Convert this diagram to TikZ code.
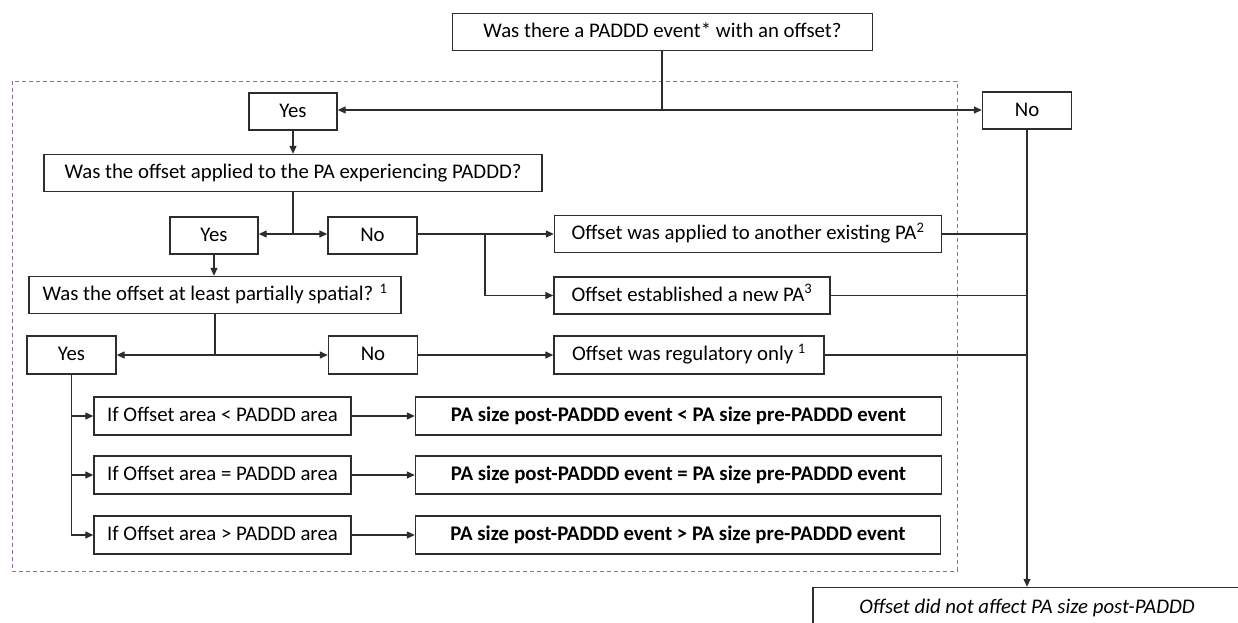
\documentclass[tikz,border=0pt]{standalone}
\usepackage{fontspec}
\setmainfont{Carlito}
\usetikzlibrary{arrows.meta}
\definecolor{ink}{RGB}{45,45,45}
\definecolor{dashc}{RGB}{150,105,160}
\newcommand{\fsz}{\fontsize{20.8}{23}\selectfont}
\begin{document}
\begin{tikzpicture}[x=1pt,y=-1pt,
  box/.style={draw=ink,line width=1.4pt,rectangle,inner sep=0pt,minimum height=37pt,align=center,font=\fsz,text=black,text height=15.5pt,text depth=4pt},
  conn/.style={draw=ink,line width=1.3pt},
  arr/.style={conn,-{Triangle[length=8pt,width=7pt]}}]
\clip (0,0) rectangle (1238,623);
\fill[white] (0,0) rectangle (1238,623);
% dashed region
\draw[dashc,line width=0.9pt,dash pattern=on 4pt off 3pt] (12,81) rectangle (957,571);
% nodes
\node[box,minimum width=420pt] (top) at (662.5,32) {Was there a PADDD event* with an offset?};
\node[box,minimum width=88pt] (yes1) at (293,111.5) {Yes};
\node[box,minimum width=89pt] (no1) at (1027,110.5) {No};
\node[box,minimum width=498pt] (q2) at (293,173) {Was the offset applied to the PA experiencing PADDD?};
\node[box,minimum width=88pt] (yes2) at (214,235.5) {Yes};
\node[box,minimum width=89pt] (no2) at (372.5,235.5) {No};
\node[box,minimum width=387pt] (pa) at (748,234) {Offset was applied to another existing PA\textsuperscript{2}};
\node[box,minimum width=276pt] (pb) at (692,295.5) {Offset established a new PA\textsuperscript{3}};
\node[box,minimum width=372pt] (q3) at (215,295) {Was the offset at least partially spatial? \textsuperscript{1}};
\node[box,minimum width=89pt,minimum height=38pt] (yes3) at (71.5,355) {Yes};
\node[box,minimum width=89pt,minimum height=38pt] (no3) at (373,355) {No};
\node[box,minimum width=270pt,minimum height=38pt] (pc) at (689,355) {Offset was regulatory only \textsuperscript{1}};
\node[box,minimum width=257pt,minimum height=38pt] (d1) at (222.5,416) {If Offset area < PADDD area};
\node[box,minimum width=257pt,minimum height=38pt] (d2) at (222.5,475) {If Offset area = PADDD area};
\node[box,minimum width=257pt,minimum height=38pt] (d3) at (222.5,535) {If Offset area > PADDD area};
\node[box,minimum width=526pt,minimum height=38pt,font=\fsz\bfseries] (e1) at (678.5,416) {PA size post-PADDD event < PA size pre-PADDD event};
\node[box,minimum width=526pt,minimum height=38pt,font=\fsz\bfseries] (e2) at (678.5,475) {PA size post-PADDD event = PA size pre-PADDD event};
\node[box,minimum width=525pt,minimum height=38pt,font=\fsz\bfseries] (e3) at (678,535) {PA size post-PADDD event > PA size pre-PADDD event};
\node[box,minimum width=428pt,minimum height=40pt,font=\fsz\itshape] (bot) at (1027,607.5) {Offset did not affect PA size post-PADDD};
% junctions
\coordinate (j1) at (662,110);
\coordinate (j2) at (293,234);
\coordinate (j3) at (485,234);
\coordinate (j4) at (215,355);
% connectors
\draw[conn] (top.south -| j1) -- (j1);
\draw[arr] (j1) -- (yes1.east |- j1);
\draw[arr] (j1) -- (no1.west |- j1);
\draw[arr] (yes1.south) -- (q2.north);
\draw[conn] (q2.south -| j2) -- (j2);
\draw[arr] (j2) -- (yes2.east |- j2);
\draw[arr] (j2) -- (no2.west |- j2);
\draw[conn] (no2.east |- j3) -- (j3);
\draw[arr] (j3) -- (pa.west |- j3);
\draw[arr] (j3) |- (pb.west);
\draw[arr] (yes2.south) -- (q3.north -| yes2.south);
\draw[conn] (q3.south -| j4) -- (j4);
\draw[arr] (j4) -- (yes3.east |- j4);
\draw[arr] (j4) -- (no3.west |- j4);
\draw[arr] (no3.east) -- (pc.west);
\draw[arr] (yes3.south) |- (d3.west);
\draw[arr] (yes3.south |- d1.west) -- (d1.west);
\draw[arr] (yes3.south |- d2.west) -- (d2.west);
\draw[arr] (d1.east) -- (e1.west);
\draw[arr] (d2.east) -- (e2.west);
\draw[arr] (d3.east) -- (e3.west);
\draw[arr] (no1.south) -- (bot.north);
\draw[conn] (pa.east) -- (pa.east -| no1.south);
\draw[conn] (pb.east) -- (pb.east -| no1.south);
\draw[conn] (pc.east) -- (pc.east -| no1.south);
\end{tikzpicture}
\end{document}
